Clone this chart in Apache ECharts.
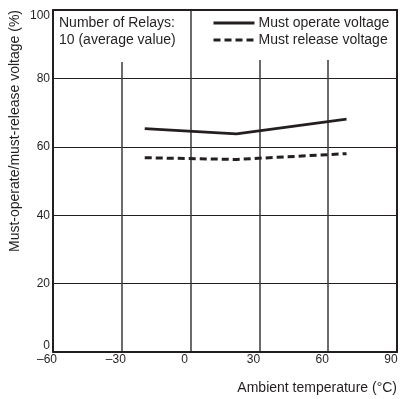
<!DOCTYPE html>
<html>
<head>
<meta charset="utf-8">
<script src="https://cdn.jsdelivr.net/npm/echarts@6/dist/echarts.min.js"></script>
<style>
html,body{margin:0;padding:0;background:#fff;}
#chart{width:407px;height:399px;}
</style>
</head>
<body>
<div id="chart"></div>
<script>
var temps = [-20, 20, 68];
var mustOperate = [65.3, 63.8, 68.1];
var mustRelease = [56.8, 56.3, 58.0];
var xTicks = ['–60', '–30', '0', '30', '60', '90'];

var ink = '#231f20';
var font = 'Liberation Sans, Arial, sans-serif';

function pairs(xs, ys) {
    return xs.map(function (x, i) { return [x, ys[i]]; });
}

// frame-only axes on top/right so the border is as heavy as the main axes
var frameX = {
    type: 'value', position: 'top', min: -60, max: 90, interval: 30,
    axisLine: { onZero: false, lineStyle: { color: ink, width: 2 } },
    axisTick: { show: false }, axisLabel: { show: false }, splitLine: { show: false }
};
var frameY = {
    type: 'value', position: 'right', min: 0, max: 100, interval: 20,
    axisLine: { show: true, onZero: false, lineStyle: { color: ink, width: 2 } },
    axisTick: { show: false }, axisLabel: { show: false }, splitLine: { show: false }
};

var chart = echarts.init(document.getElementById('chart'));
chart.setOption({
    animation: false,
    textStyle: { fontFamily: font, color: ink },
    grid: { left: 53, right: 10, top: 10, bottom: 47 },
    title: {
        text: 'Number of Relays:\n10 (average value)',
        left: 54,
        top: 11,
        backgroundColor: '#fff',
        padding: [4, 5, 13, 5],
        textStyle: { fontFamily: font, fontSize: 14, fontWeight: 'normal', color: ink, lineHeight: 17 }
    },
    legend: {
        orient: 'vertical',
        left: 205,
        top: 11,
        backgroundColor: '#fff',
        padding: [5, 2, 13, 7],
        itemWidth: 41,
        itemHeight: 14,
        itemGap: 3,
        itemStyle: { opacity: 0 },
        lineStyle: { width: 3 },
        textStyle: { fontFamily: font, fontSize: 14, color: ink, padding: [0, 0, 0, -1] },
        data: ['Must operate voltage', 'Must release voltage']
    },
    xAxis: [{
        type: 'value',
        min: -60,
        max: 90,
        interval: 30,
        name: 'Ambient temperature (°C)',
        nameLocation: 'end',
        nameGap: 0,
        nameTextStyle: { fontFamily: font, fontSize: 14, color: ink, align: 'right', verticalAlign: 'top', padding: [29, 0, 0, 0] },
        axisLine: { onZero: false, lineStyle: { color: ink, width: 2 } },
        axisTick: { show: false },
        splitLine: { lineStyle: { color: '#3a3a3a', width: 1.5 } },
        axisLabel: {
            fontFamily: font, fontSize: 12, color: ink, margin: 2, padding: [0, 12, 0, 0],
            formatter: function (v) { return xTicks[(v + 60) / 30]; }
        }
    }, frameX],
    yAxis: [{
        type: 'value',
        min: 0,
        max: 100,
        interval: 20,
        name: 'Must-operate/must-release voltage (%)',
        nameLocation: 'end',
        nameRotate: 90,
        nameGap: 0,
        nameTextStyle: { fontFamily: font, fontSize: 14, color: ink, align: 'right', verticalAlign: 'bottom', padding: [0, 0, 31, 0] },
        axisLine: { show: true, onZero: false, lineStyle: { color: ink, width: 2 } },
        axisTick: { show: false },
        splitLine: { lineStyle: { color: ink, width: 1 } },
        axisLabel: {
            fontFamily: font, fontSize: 12, color: ink, margin: 3,
            verticalAlignMinLabel: 'bottom', verticalAlignMaxLabel: 'top'
        }
    }, frameY],
    series: [
        {
            name: 'Must operate voltage',
            type: 'line',
            symbol: 'none',
            data: pairs(temps, mustOperate),
            lineStyle: { color: ink, width: 2.8 },
            itemStyle: { color: ink }
        },
        {
            name: 'Must release voltage',
            type: 'line',
            symbol: 'none',
            data: pairs(temps, mustRelease),
            lineStyle: { color: ink, width: 3, type: [7, 4] },
            itemStyle: { color: ink }
        }
    ]
});
</script>
</body>
</html>
